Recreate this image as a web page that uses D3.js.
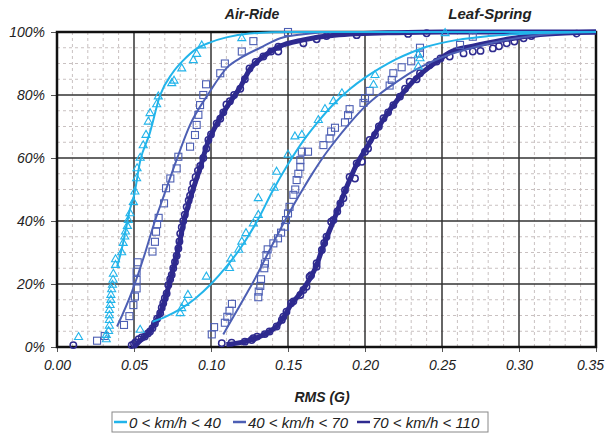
<!DOCTYPE html>
<meta charset="utf-8">
<style>
body { margin: 0; background: #fff; }
.chart text { font-family: "Liberation Sans", Arial, sans-serif; font-style: italic; fill: #222; }
.tick-label { font-size: 14px; }
.title { font-size: 14px; font-weight: bold; }
.legend text { font-size: 15px; }
</style>
<svg class="chart" width="606" height="434"></svg>
<script src="https://cdn.jsdelivr.net/npm/d3@7"></script>
<script>

// tick labels
var xTicks = [0, 0.05, 0.10, 0.15, 0.20, 0.25, 0.30, 0.35];
var yTicks = [0, 20, 40, 60, 80, 100];

var seriesNames = ["0 < km/h < 40", "40 < km/h < 70", "70 < km/h < 110"];
var colors = ["#22b4ea", "#4d5fb4", "#2e2a8f"];

// Air-Ride, 0-40 km/h (triangles) : [RMS, cumulative %]
var airLowPts = [[0.014,3.1],[0.032,2.4],[0.032,3.8],[0.0335,5],[0.034,6.7],[0.034,8.5],[0.034,10],[0.034,11.7],
  [0.0345,13.3],[0.035,14.9],[0.035,16.5],[0.0355,18.3],[0.036,19.7],[0.0364,21.3],[0.0366,23.2],[0.038,26],
  [0.038,27.8],[0.042,30],[0.043,33],[0.044,35],[0.0445,36.6],[0.0457,38.4],[0.0463,40.3],[0.0474,42.4],
  [0.0496,46],[0.0506,49.3],[0.0517,53.5],[0.052,56.7],[0.054,60],[0.056,64],[0.0578,67.3],[0.0593,71.5],
  [0.0604,74.2],[0.0647,77],[0.0658,79.5],[0.0745,83.7],[0.076,84.5],[0.081,88.4],[0.0885,91],[0.0907,93],
  [0.094,95.7],[0.120,98]];
var airLowFit = [[0.039,25.5],[0.042,31],[0.045,38],[0.047,43],[0.050,48],[0.054,59],[0.060,67.5],[0.067,80],
  [0.075,87],[0.082,91],[0.090,94.5],[0.100,96.8],[0.110,98.3],[0.125,99.5],[0.150,100],[0.35,100]];

// Air-Ride, 40-70 km/h (squares)
var airMidPts = [[0.026,2],[0.031,3.5],[0.0435,7],[0.047,9.8],[0.0496,13.3],[0.0506,16],[0.0517,18.6],[0.0517,21.3],
  [0.0517,23.9],[0.0524,26.9],[0.062,30.3],[0.0636,33.4],[0.0643,36.6],[0.065,39],[0.066,41],[0.0695,45.6],
  [0.0708,50.4],[0.0736,53.5],[0.0777,56.7],[0.0788,60.4],[0.0864,63.6],[0.0896,67.3],[0.0907,70.5],[0.0918,73.7],
  [0.0929,76.8],[0.095,80],[0.0968,83.4],[0.106,86.9],[0.109,90],[0.12,93.8],[0.1275,97.1],[0.15,100]];
var airMidFit = [[0.039,6.5],[0.049,18],[0.056,28],[0.0636,40],[0.069,47.5],[0.0777,59.5],[0.0864,70.5],
  [0.0985,80.5],[0.111,89],[0.12,92],[0.132,95],[0.145,98],[0.16,99.3],[0.18,100],[0.35,100]];

// Air-Ride, 70-110 km/h (circles)
var airHighPts = [[0.0106,0.6],[0.0485,0.6],[0.050,1],[0.051,1.5],[0.053,2.5],[0.055,3],[0.057,3.3],[0.059,4.3],
  [0.0604,4.9],[0.062,6],[0.0636,7.5],[0.065,9],[0.067,10.7],[0.068,12.5],[0.069,13.9],[0.070,15.5],[0.0712,17],
  [0.0723,19.7],[0.0735,21.5],[0.0745,22.9],[0.0755,25],[0.0766,27],[0.0777,29],[0.0788,31.3],[0.0795,33.5],
  [0.080,36],[0.081,38],[0.082,40],[0.083,42],[0.0842,44.5],[0.0855,46.5],[0.0864,48],[0.0875,50],[0.0885,52],
  [0.090,54],[0.0915,56],[0.093,57.5],[0.095,60],[0.097,63],[0.0983,65.7],[0.100,67.5],[0.1037,71],[0.106,72.5],
  [0.108,74.5],[0.110,77],[0.1123,78],[0.115,80],[0.119,82],[0.122,85],[0.125,88.4],[0.129,90.5],[0.134,92.2],
  [0.139,93.8],[0.1437,95.3],[0.1437,93.8],[0.16,96.4],[0.1686,97.7],[0.175,98.7],[0.1946,99],[0.228,99.4],[0.24,99.6]];
var airHighFit = [[0.05,0],[0.053,1.5],[0.057,3.3],[0.0604,5],[0.0636,7.5],[0.067,10.7],[0.0712,17],[0.0745,23],
  [0.0788,31.3],[0.082,39],[0.0864,47],[0.093,57],[0.098,65],[0.104,71],[0.112,77.5],[0.119,82.5],[0.125,88],
  [0.134,92.2],[0.144,95.3],[0.16,97.5],[0.18,99],[0.22,99.8],[0.25,100],[0.35,100]];

// Leaf-Spring, 0-40 km/h (triangles)
var leafLowPts = [[0.054,5.4],[0.080,10.7],[0.081,12.3],[0.083,13.9],[0.085,16.5],[0.097,22.3],[0.112,25],[0.113,28],
  [0.118,30.8],[0.12,33.4],[0.1227,36.1],[0.1275,39.2],[0.1307,41.9],[0.1307,47.2],[0.141,50.5],[0.1426,55.6],
  [0.150,61],[0.1545,66.8],[0.159,67.3],[0.1697,72],[0.174,75.5],[0.1795,78],[0.185,80.5],[0.2055,83.2],
  [0.2065,86.3],[0.2346,89],[0.2357,91.6],[0.2346,92.7],[0.252,99.6]];
var leafLowFit = [[0.062,8],[0.07,9.5],[0.08,12],[0.09,15.5],[0.10,20],[0.11,25.5],[0.12,32],[0.13,40],[0.14,49.5],
  [0.15,58],[0.16,65.5],[0.17,71.8],[0.18,77.3],[0.19,81.8],[0.20,85.5],[0.21,88.6],[0.22,91.3],[0.23,93.5],
  [0.24,95.3],[0.26,97.5],[0.28,98.7],[0.31,99.6],[0.35,100]];

// Leaf-Spring, 40-70 km/h (squares)
var leafMidPts = [[0.1005,4],[0.102,6.3],[0.109,7.7],[0.1106,9.6],[0.112,11.5],[0.1136,13.7],[0.1307,15.8],
  [0.131,17.6],[0.132,19.4],[0.1325,21.5],[0.1346,25],[0.135,26.5],[0.136,29.2],[0.1368,31],[0.1405,32.9],
  [0.1435,34.5],[0.1455,36.3],[0.148,38.2],[0.1487,40.3],[0.150,42.4],[0.151,44.5],[0.1535,48.3],[0.1547,50],
  [0.1556,53],[0.1567,55],[0.158,57.2],[0.158,59.3],[0.159,62],[0.163,62],[0.173,64.1],[0.177,66.2],[0.178,68.4],
  [0.1805,69.6],[0.187,71.3],[0.189,73.6],[0.19,75.5],[0.199,77.5],[0.2,79],[0.203,81.3],[0.216,83],[0.2174,84.8],
  [0.2184,86.9],[0.2238,88.8],[0.23,90.7],[0.2357,93.2],[0.2357,95],[0.2617,95.9],[0.270,98.5]];
var leafMidFit = [[0.108,4],[0.115,10],[0.123,16.8],[0.13,23],[0.136,28.8],[0.142,34.5],[0.148,40.1],[0.154,45.4],
  [0.16,50.4],[0.166,55.2],[0.172,59.7],[0.18,65],[0.19,71],[0.20,76.3],[0.21,80.5],[0.22,84],[0.23,87.2],
  [0.24,89.8],[0.25,92],[0.266,94.5],[0.28,96.3],[0.2985,98],[0.3245,99.6],[0.35,100]];

// Leaf-Spring, 70-110 km/h (circles)
var leafHighPts = [[0.107,1.2],[0.1134,1.4],[0.122,1.7],[0.1264,2.2],[0.1275,2.8],[0.13,3.3],[0.135,4.1],[0.138,4.9],
  [0.1426,6.5],[0.146,8.6],[0.147,9.6],[0.149,11.2],[0.152,13.9],[0.1535,14.5],[0.158,16.5],[0.16,18.1],[0.162,19.1],
  [0.164,22.3],[0.165,22.8],[0.1686,25.5],[0.1686,26.6],[0.172,30.8],[0.1735,33],[0.175,35],[0.178,39.8],[0.1795,40.3],
  [0.182,43],[0.184,45.6],[0.186,47.2],[0.187,49.8],[0.19,54],[0.1935,53.5],[0.1946,58.3],[0.198,58.8],[0.2,62],
  [0.202,63],[0.203,65.7],[0.2065,67.3],[0.209,70],[0.212,72.6],[0.215,74.5],[0.2184,76.8],[0.2227,79.5],[0.226,82],
  [0.229,84.2],[0.2335,85],[0.2357,86.9],[0.242,89.5],[0.2465,90.6],[0.249,91.6],[0.255,92.2],[0.264,93.2],
  [0.270,93.8],[0.275,94],[0.283,94.8],[0.287,95.5],[0.292,96.4],[0.297,97],[0.303,98],[0.308,98.7],[0.3375,99.5]];
var leafHighFit = [[0.11,0.8],[0.122,1.7],[0.13,3],[0.138,4.9],[0.1426,6.5],[0.147,9.3],[0.152,13.5],[0.158,17],
  [0.164,21.5],[0.1686,26],[0.172,30.8],[0.1795,40],[0.187,49.5],[0.1946,58],[0.202,64],[0.212,72.3],[0.2227,79.5],
  [0.2335,85.5],[0.2465,90.6],[0.255,93.5],[0.27,95.5],[0.29,97.5],[0.31,99],[0.33,99.7],[0.35,100]];

var margin = {top: 32, right: 10, bottom: 87, left: 57},
    width = 596 - margin.left,
    height = 347 - margin.top;

var svg = d3.select(".chart");
var chart = svg.append("g")
  .attr("transform", "translate(" + margin.left + "," + margin.top + ")");

var x = d3.scaleLinear().domain([0, 0.35]).range([0, width]);
var y = d3.scaleLinear().domain([0, 100]).range([height, 0]);

// minor grid
chart.append("g").selectAll("line")
  .data(d3.range(1, 35).filter(function(i) { return i % 5 != 0; }))
  .enter().append("line")
  .attr("x1", function(i) { return x(i / 100); }).attr("x2", function(i) { return x(i / 100); })
  .attr("y1", 0).attr("y2", height)
  .attr("stroke", "#c9c1c1").attr("stroke-dasharray", "3,3");
chart.append("g").selectAll("line")
  .data(d3.range(5, 100, 5).filter(function(v) { return v % 20 != 0; }))
  .enter().append("line")
  .attr("y1", function(v) { return y(v); }).attr("y2", function(v) { return y(v); })
  .attr("x1", 0).attr("x2", width)
  .attr("stroke", "#c9c1c1").attr("stroke-dasharray", "3,3");

// major grid
chart.append("g").selectAll("line").data(xTicks).enter().append("line")
  .attr("x1", x).attr("x2", x).attr("y1", 0).attr("y2", height)
  .attr("stroke", "#333").attr("stroke-width", 1.5);
chart.append("g").selectAll("line").data(yTicks).enter().append("line")
  .attr("y1", y).attr("y2", y).attr("x1", 0).attr("x2", width)
  .attr("stroke", "#333").attr("stroke-width", 1.5);

// axes
var xAxis = d3.axisBottom(x).tickValues(xTicks).tickFormat(d3.format(".2f")).tickSize(5).tickPadding(8);
var yAxis = d3.axisLeft(y).tickValues(yTicks).tickFormat(function(d) { return d + "%"; }).tickSize(6).tickPadding(6);

var gx = chart.append("g").attr("transform", "translate(0," + height + ")").call(xAxis);
var gy = chart.append("g").call(yAxis);
[gx, gy].forEach(function(g) {
  g.select(".domain").remove();
  g.selectAll("line").attr("stroke", "#555");
  g.selectAll("text").attr("class", "tick-label").attr("fill", "#222");
  g.attr("font-family", null).attr("font-size", null);
});
// last label sits against the right edge
gx.selectAll("text").filter(function(d) { return d == 0.35; }).attr("dx", -6);

chart.append("rect")
  .attr("width", width).attr("height", height)
  .attr("fill", "none").attr("stroke", "#111").attr("stroke-width", 2.5);

var line = d3.line()
  .x(function(d) { return x(d[0]); })
  .y(function(d) { return y(d[1]); })
  .curve(d3.curveMonotoneX);

function drawMarkers(pts, shape, color, sw) {
  var g = chart.append("g").attr("fill", "none").attr("stroke", color).attr("stroke-width", sw);
  if (shape == "square") {
    g.selectAll("rect").data(pts).enter().append("rect")
      .attr("x", function(d) { return x(d[0]) - 3.5; })
      .attr("y", function(d) { return y(d[1]) - 3.5; })
      .attr("width", 7).attr("height", 7);
  } else if (shape == "triangle") {
    g.selectAll("path").data(pts).enter().append("path")
      .attr("d", d3.symbol().type(d3.symbolTriangle).size(28))
      .attr("transform", function(d) { return "translate(" + x(d[0]) + "," + y(d[1]) + ")"; });
  } else {
    g.selectAll("circle").data(pts).enter().append("circle")
      .attr("cx", function(d) { return x(d[0]); })
      .attr("cy", function(d) { return y(d[1]); })
      .attr("r", 3.2);
  }
}

function drawFit(pts, color, w) {
  chart.append("path").datum(pts)
    .attr("fill", "none").attr("stroke", color).attr("stroke-width", w)
    .attr("d", line);
}

drawFit(airHighFit, colors[2], 5);
drawFit(leafHighFit, colors[2], 5);
drawMarkers(airHighPts, "circle", colors[2], 1.5);
drawMarkers(leafHighPts, "circle", colors[2], 1.5);
drawMarkers(airMidPts, "square", colors[1], 1.1);
drawMarkers(leafMidPts, "square", colors[1], 1.1);
drawFit(airMidFit, colors[1], 2);
drawFit(leafMidFit, colors[1], 2);
drawMarkers(airLowPts, "triangle", colors[0], 1.1);
drawMarkers(leafLowPts, "triangle", colors[0], 1.1);
drawFit(airLowFit, colors[0], 2);
drawFit(leafLowFit, colors[0], 2);

// titles
svg.append("text").attr("class", "title").attr("x", 252).attr("y", 19)
  .attr("text-anchor", "middle").text("Air-Ride");
svg.append("text").attr("class", "title").attr("x", 490).attr("y", 19)
  .attr("text-anchor", "middle").style("font-size", "15px").text("Leaf-Spring");
svg.append("text").attr("class", "title").attr("x", 322).attr("y", 402)
  .attr("text-anchor", "middle").text("RMS (G)");

// legend
var legend = svg.append("g").attr("class", "legend");
legend.append("rect").attr("x", 112).attr("y", 412).attr("width", 376).attr("height", 20)
  .attr("fill", "#fff").attr("stroke", "#888");
var legendX = [114, 233, 357];
seriesNames.forEach(function(name, i) {
  legend.append("line").attr("x1", legendX[i]).attr("x2", legendX[i] + 13)
    .attr("y1", 422).attr("y2", 422).attr("stroke", colors[i]).attr("stroke-width", 2.5);
  legend.append("text").attr("x", legendX[i] + 15).attr("y", 427.5).text(name);
});

</script>
